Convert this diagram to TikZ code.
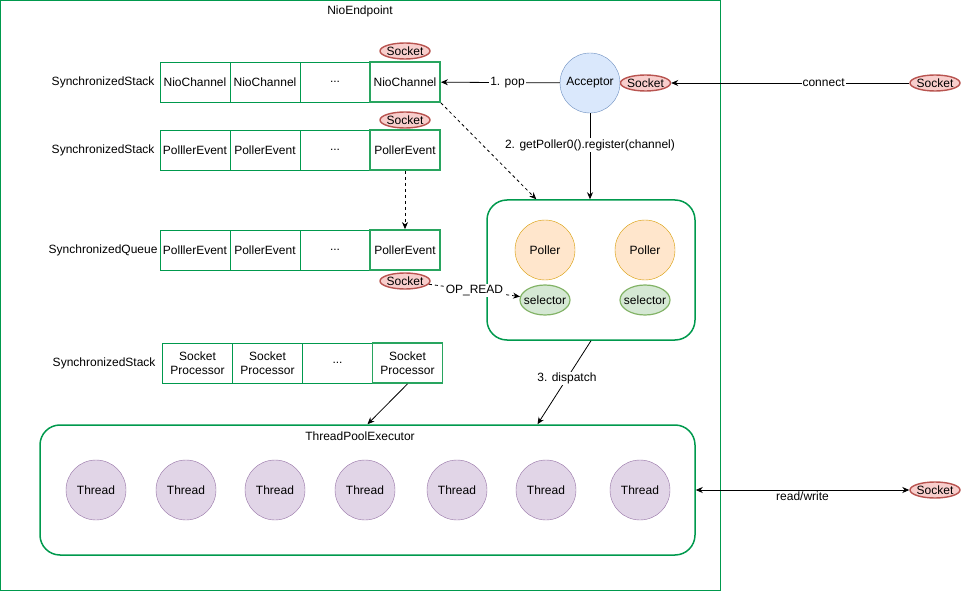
\documentclass[tikz,border=0pt]{standalone}
\usepackage{fontspec}
\setmainfont{Liberation Sans}
\usetikzlibrary{shapes,arrows.meta,positioning,calc}
\definecolor{framegreen}{RGB}{0,153,77}
\definecolor{hlgreen}{RGB}{40,165,95}
\definecolor{sockfill}{RGB}{248,206,204}
\definecolor{sockline}{RGB}{184,84,80}
\definecolor{accfill}{RGB}{218,232,252}
\definecolor{accline}{RGB}{108,142,191}
\definecolor{pollfill}{RGB}{255,230,204}
\definecolor{pollline}{RGB}{215,155,0}
\definecolor{selfill}{RGB}{213,232,212}
\definecolor{selline}{RGB}{130,179,102}
\definecolor{thrfill}{RGB}{225,213,231}
\definecolor{thrline}{RGB}{150,115,166}

\tikzset{
  every node/.style={font=\fontsize{12}{14}\selectfont},
  cell/.style={draw=framegreen, minimum width=70pt, minimum height=40pt, inner sep=0pt, align=center},
  topcell/.style={cell, draw=hlgreen, line width=1.8pt},
  socket/.style={ellipse, draw=sockline, fill=sockfill, line width=1.4pt, minimum width=50pt, minimum height=16pt, inner sep=0pt, label=center:Socket},
  selector/.style={ellipse, draw=selline, fill=selfill, line width=1.2pt, minimum width=50pt, minimum height=30pt, inner sep=0pt, label=center:selector},
  poller/.style={circle, draw=pollline, fill=pollfill, minimum size=60pt, inner sep=0pt},
  thread/.style={circle, draw=thrline, fill=thrfill, minimum size=60pt, inner sep=0pt},
  groupbox/.style={draw=framegreen, line width=1.5pt, rounded corners=20pt, inner sep=0pt},
  arr/.style={-{Stealth[length=7pt,width=6pt]}, thick},
  lbl/.style={fill=white, inner sep=1pt}
}

\begin{document}
\begin{tikzpicture}[x=1pt, y=-1pt]
    \useasboundingbox (0,0) rectangle (962,591);

    % NioEndpoint frame
    \draw[framegreen] (0.5,0.5) rectangle (720,590);
    \node (title) at (360,11) {NioEndpoint};

    % NioChannel stack
    \node[anchor=east] (stack1) at (158,82) {SynchronizedStack};
    \node[cell] (nio1) at (195,82) {NioChannel};
    \node[cell] (nio2) at (265,82) {NioChannel};
    \node[cell] (nio3) at (335,82) {...};
    \node[topcell] (nio4) at (405,82) {NioChannel};
    \node[socket] (sock1) at (405,51) {};

    % PollerEvent stack
    \node[anchor=east] (stack2) at (158,150) {SynchronizedStack};
    \node[cell] (pe1) at (195,150) {PolllerEvent};
    \node[cell] (pe2) at (265,150) {PollerEvent};
    \node[cell] (pe3) at (335,150) {...};
    \node[topcell] (pe4) at (405,150) {PollerEvent};
    \node[socket] (sock2) at (405,120) {};

    % PollerEvent queue
    \node[anchor=east] (queue) at (161,250) {SynchronizedQueue};
    \node[cell] (pq1) at (195,250) {PolllerEvent};
    \node[cell] (pq2) at (265,250) {PollerEvent};
    \node[cell] (pq3) at (335,250) {...};
    \node[topcell] (pq4) at (405,250) {PollerEvent};
    \node[socket] (sock3) at (405,281) {};

    % SocketProcessor stack
    \node[anchor=east] (stack3) at (159,363) {SynchronizedStack};
    \node[cell] (sp1) at (197.5,363) {Socket\\Processor};
    \node[cell] (sp2) at (267.5,363) {Socket\\Processor};
    \node[cell] (sp3) at (337.5,363) {...};
    \node[topcell] (sp4) at (407.5,363) {Socket\\Processor};

    % Acceptor
    \node[circle, draw=accline, fill=accfill, minimum size=60pt, inner sep=0pt] (acceptor) at (590,83) {Acceptor};
    \node[socket] (sockA) at (645.5,83) {};
    \node[socket] (sockC) at (935,83) {};

    % Pollers
    \node[groupbox, minimum width=208pt, minimum height=140pt] (pollers) at (591,270) {};
    \node[poller] (poller1) at (545,250) {Poller};
    \node[poller] (poller2) at (645,250) {Poller};
    \node[selector] (sel1) at (545,300) {};
    \node[selector] (sel2) at (645,300) {};

    % ThreadPoolExecutor
    \node[groupbox, minimum width=655pt, minimum height=130pt] (pool) at (367.5,490) {};
    \node (pooltitle) at (360,436) {ThreadPoolExecutor};
    \node[thread] (t1) at (96,490) {Thread};
    \node[thread] (t2) at (186,490) {Thread};
    \node[thread] (t3) at (275,490) {Thread};
    \node[thread] (t4) at (365,490) {Thread};
    \node[thread] (t5) at (457,490) {Thread};
    \node[thread] (t6) at (546,490) {Thread};
    \node[thread] (t7) at (640,490) {Thread};
    \node[socket] (sockW) at (935,490) {};

    % Arrows
    \draw[arr] (sockC) -- (sockA) node[lbl, pos=0.36] {connect};
    \draw[arr] (acceptor) -- (nio4) node[lbl, pos=0.44] {1. pop};
    \draw[arr] (acceptor) -- (acceptor.south |- pollers.north) node[lbl, pos=0.37] {2. getPoller0().register(channel)};
    \draw[arr, dashed] (nio4.south east) -- ([xshift=50pt]pollers.north west);
    \draw[arr, dashed] (pe4) -- (pq4);
    \draw[arr, dashed] (sock3) -- (sel1) node[lbl, midway] {OP\_READ};
    \draw[arr] (pollers.south) -- ([xshift=170pt]pool.north) node[lbl, pos=0.45] {3. dispatch};
    \draw[arr] (sp4.south) -- (pool.north);
    \draw[{Stealth[length=7pt,width=6pt]}-{Stealth[length=7pt,width=6pt]}, thick] (pool.east) -- (sockW) node[lbl, pos=0.5, yshift=-6pt] {read/write};
\end{tikzpicture}
\end{document}
